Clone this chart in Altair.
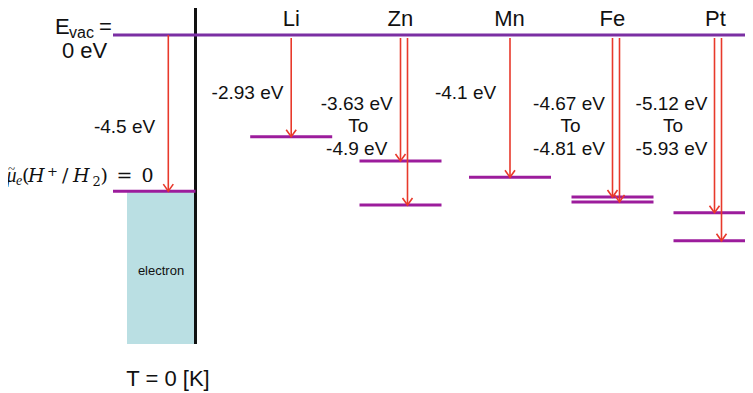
import altair as alt
import pandas as pd

# ---------------- data ----------------
metals = ["Li", "Zn", "Mn", "Fe", "Pt"]
level_first = [-2.93, -3.63, -4.1, -4.67, -5.12]      # eV
level_second = [None, -4.9, None, -4.81, -5.93]       # eV (range end)
label_first = ["-2.93 eV", "-3.63 eV", "-4.1 eV", "-4.67 eV", "-5.12 eV"]
label_second = [None, "-4.9 eV", None, "-4.81 eV", "-5.93 eV"]
she_level = -4.5
vac_level = 0.0

# ---------------- layout (page pixels) ----------------
W, H = 737, 385
K = 34.7          # px per eV
Y0 = 35           # page y of vacuum level


def E(py):
    return -(py - Y0) / K


col_center = [291.2, 400.5, 510.0, 612.5, 714.5]
title_x = [291.3, 400.3, 509.5, 612.3, 715.5]
label_x = [247.5, 356.7, 465.5, 569.0, 671.5]
half_len = 41

VAC = "#7b2fa3"
LVL = "#9c1c9c"
RED = "#e8392b"
BOX = "#badfe3"

xs = alt.Scale(domain=[8, 8 + W])
ys = alt.Scale(domain=[E(8 + H), E(8)])

# level lines
lv = []
for i, m in enumerate(metals):
    for v in (level_first[i], level_second[i]):
        if v is not None:
            lv.append({"x": col_center[i] - half_len, "x2": col_center[i] + half_len, "e": v})
lv.append({"x": 113, "x2": 195.5, "e": she_level})
lv_df = pd.DataFrame(lv)

# arrows
arr = []
for i, m in enumerate(metals):
    arr.append({"x": col_center[i], "e0": E(38), "e": level_first[i]})
    if level_second[i] is not None:
        arr.append({"x": col_center[i] + 7, "e0": E(38), "e": level_second[i]})
arr.append({"x": 168.3, "e0": vac_level, "e": she_level})
arr_df = pd.DataFrame(arr)

box = alt.Chart(pd.DataFrame([{"x": 127, "x2": 195.5, "e": she_level, "e2": E(344)}])).mark_rect(
    color=BOX).encode(
    x=alt.X("x:Q", scale=xs, axis=None), x2="x2:Q",
    y=alt.Y("e:Q", scale=ys, axis=None), y2="e2:Q")

wall = alt.Chart(pd.DataFrame([{"x": 195.5, "e": E(8), "e2": E(344)}])).mark_rule(
    color="#111111", strokeWidth=3).encode(
    x=alt.X("x:Q", scale=xs, axis=None),
    y=alt.Y("e:Q", scale=ys, axis=None), y2="e2:Q")

levels = alt.Chart(lv_df).mark_rule(color=LVL, strokeWidth=3, clip=True).encode(
    x=alt.X("x:Q", scale=xs, axis=None), x2="x2:Q",
    y=alt.Y("e:Q", scale=ys, axis=None))

vac = alt.Chart(pd.DataFrame([{"x": 113, "x2": 8 + W, "e": vac_level}])).mark_rule(
    color=VAC, strokeWidth=3, clip=True).encode(
    x=alt.X("x:Q", scale=xs, axis=None), x2="x2:Q",
    y=alt.Y("e:Q", scale=ys, axis=None))

shafts = alt.Chart(arr_df).mark_rule(color=RED, strokeWidth=1.6).encode(
    x=alt.X("x:Q", scale=xs, axis=None),
    y=alt.Y("e0:Q", scale=ys, axis=None), y2="e:Q")

heads = alt.Chart(arr_df).mark_point(
    shape="M-1,-1.4L0,0L1,-1.4", filled=False, stroke=RED, strokeWidth=1.6, size=100, opacity=1).encode(
    x=alt.X("x:Q", scale=xs, axis=None),
    y=alt.Y("e:Q", scale=ys, axis=None))

# texts (page x, page baseline y, size, text)
center_txt = []
for i, m in enumerate(metals):
    center_txt.append((title_x[i], 26, 22, m))
    if level_second[i] is None:
        center_txt.append((label_x[i], 99, 19, label_first[i]))
    else:
        center_txt.append((label_x[i], 110, 19, label_first[i]))
        center_txt.append((label_x[i] + 1.5, 131.7, 19, "To"))
        center_txt.append((label_x[i], 155, 19, label_second[i]))
center_txt += [
    (84.5, 58, 22, "0 eV"),
    (124.5, 133, 19, "-4.5 eV"),
    (161, 275, 13, "electron"),
    (168, 386, 22, "T = 0 [K]"),
]
left_txt = [
    (55, 33.5, 22, "E"),
    (69, 37.5, 16, "vac"),
    (99, 33.5, 22, "="),
]
math_it_times = [
    (6.5, 182, 20, "μ"),
    (16, 185, 14, "e"),
]
math_tilde = [
    (8, 173, 13, "~"),
]
math_it = [
    (28, 182, 19, "H"),
    (73, 182, 19, "H"),
]
math_up = [
    (22, 182, 19, "("),
    (47, 176, 13, "+"),
    (62, 182, 19, "/"),
    (92.5, 186, 13, "2"),
    (100.5, 182, 19, ")"),
    (116.5, 182, 19, "="),
    (141.5, 182, 19, "0"),
]


def tdf(rows):
    return pd.DataFrame([{"x": r[0], "e": E(r[1]), "fs": r[2], "t": r[3]} for r in rows])


def text_layer(rows, align, font, style="normal", color="#111111"):
    return alt.Chart(tdf(rows)).mark_text(
        align=align, baseline="alphabetic", font=font, fontStyle=style, color=color).encode(
        x=alt.X("x:Q", scale=xs, axis=None),
        y=alt.Y("e:Q", scale=ys, axis=None),
        size=alt.Size("fs:Q", scale=None, legend=None),
        text="t:N")


t1 = text_layer(center_txt, "center", "Liberation Sans")
t2 = text_layer(left_txt, "left", "Liberation Sans")
t3 = text_layer(math_it_times, "left", "Liberation Serif", "italic")
t3b = text_layer(math_tilde, "left", "Liberation Serif")
t4 = text_layer(math_it, "left", "DejaVu Serif", "italic")
t5 = text_layer(math_up, "left", "DejaVu Serif")

chart = alt.layer(box, wall, levels, vac, shafts, heads, t1, t2, t3, t3b, t4, t5).properties(
    width=W, height=H, padding=0, autosize=alt.AutoSizeParams(type="none")
).configure_view(stroke=None)

chart.save("out.html", embed_options={"renderer": "svg", "actions": False})
